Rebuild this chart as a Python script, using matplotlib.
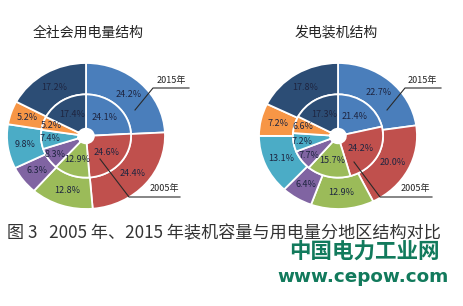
import numpy as np
import matplotlib
matplotlib.use('Agg')
import matplotlib.pyplot as plt
from matplotlib.lines import Line2D

plt.rcParams['font.family'] = ['Noto Sans CJK SC', 'DejaVu Sans']

# regions order: clockwise from 12 o'clock
colors = ['#4a7ebb', '#c0504d', '#9bbb59', '#8064a2', '#4bacc6', '#f79646', '#2c4d75']

use_2015 = [24.2, 24.4, 12.8, 6.3, 9.8, 5.2, 17.2]
use_2005 = [24.1, 24.6, 12.9, 8.3, 7.4, 5.2, 17.4]
cap_2015 = [22.7, 20.0, 12.9, 6.4, 13.1, 7.2, 17.8]
cap_2005 = [21.4, 24.2, 15.7, 7.7, 7.2, 6.6, 17.3]

titles = ['全社会用电量结构', '发电装机结构']
caption = '图 3   2005 年、2015 年装机容量与用电量分地区结构对比'

W, H = 464, 306
fig = plt.figure(figsize=(W / 100, H / 100), dpi=100)
fig.patch.set_facecolor('white')

def px(x, y):
    return x / W, 1 - y / H

R_OUT, R_MID, R_HOLE = 1.0, 0.57, 0.1
txt_col = '#1e2540'

def ring(ax, vals, r_outer, r_inner, lab_r):
    wedges, _ = ax.pie(vals, radius=r_outer, colors=colors, startangle=90,
                       counterclock=False,
                       wedgeprops=dict(width=r_outer - r_inner, edgecolor='white', linewidth=1.3))
    for w, v in zip(wedges, vals):
        ang = np.deg2rad((w.theta1 + w.theta2) / 2)
        r = lab_r(v)
        ax.text(r * np.cos(ang), r * np.sin(ang), '%.1f%%' % v, ha='center', va='center',
                fontsize=6.5, color=txt_col)

def donut(cx, cy, rx, ry, outer, inner):
    l, b = (cx - rx) / W, (H - cy - ry) / H
    ax = fig.add_axes([l, b, 2 * rx / W, 2 * ry / H])
    ring(ax, outer, R_OUT, R_MID, lambda v: 0.78)
    ring(ax, inner, R_MID, R_HOLE, lambda v: 0.34 if v > 10 else 0.46)
    ax.set_aspect('auto')
    ax.set_xlim(-1, 1)
    ax.set_ylim(-1, 1)
    ax.axis('off')
    for a in ax.patches + ax.texts:
        a.set_clip_on(False)
    return ax

donut(86, 136, 79, 73, use_2015, use_2005)
donut(338, 136, 79, 73, cap_2015, cap_2005)

# titles
fig.text(*px(88, 33), titles[0], ha='center', va='center', fontsize=10, color='#222222')
fig.text(*px(336, 33), titles[1], ha='center', va='center', fontsize=10, color='#222222')

# leader lines
def leader(pts, label, tx, ty):
    xs = [p[0] / W for p in pts]
    ys = [1 - p[1] / H for p in pts]
    fig.add_artist(Line2D(xs, ys, color='#2a2a2a', linewidth=0.8))
    fig.text(*px(tx, ty), label, ha='center', va='center', fontsize=6.5, color='#222222')

leader([(135, 110), (153, 88), (189, 88)], '2015年', 171, 80)
leader([(100, 159), (129, 197), (180, 197)], '2005年', 164, 188)
leader([(387, 110), (405, 88), (441, 88)], '2015年', 422, 80)
leader([(354, 162), (380, 197), (432, 197)], '2005年', 415, 188)

# caption
fig.text(*px(224, 233), caption, ha='center', va='center', fontsize=12.3, color='#333333')

# watermark
fig.text(*px(364, 251), '中国电力工业网', ha='center', va='center', fontsize=15.5,
         fontweight='bold', color='#127a5c')
fig.text(*px(363, 277), 'www.cepow.com', ha='center', va='center', fontsize=13.2,
         fontweight='bold', color='#127a5c', family='DejaVu Sans')

fig.savefig('out.png', dpi=100, facecolor='white')
